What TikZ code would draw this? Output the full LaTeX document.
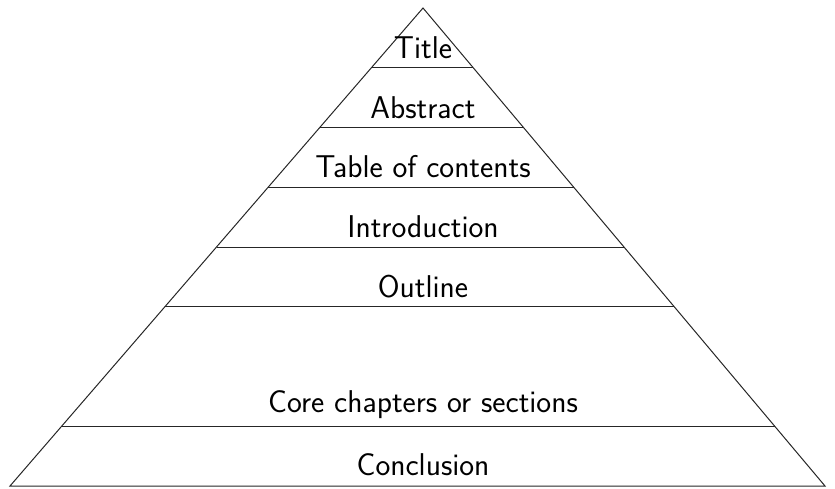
\documentclass[tikz,border=0pt]{standalone}
\usetikzlibrary{calc}
\begin{document}
\begin{tikzpicture}[x=1pt,y=-1pt,
  edge/.style={line width=1pt,black!85},
  lbl/.style={anchor=base,inner sep=0pt,font=\sffamily\fontsize{31.5}{36}\selectfont}]
\useasboundingbox (0,0) rectangle (835,488);
\coordinate (apex) at (423,8);
\coordinate (bl) at (10,486);
\coordinate (br) at (825,486);
\draw[edge] (bl) -- (apex) -- (br) -- cycle;
\foreach \t/\n in {0.125/a,0.25/b,0.375/c,0.5/d,0.625/e,0.875/f}{
  \coordinate (L\n) at ($(apex)!\t!(bl)$);
  \coordinate (R\n) at ($(apex)!\t!(br)$);
  \draw[edge] (L\n) -- (R\n);
}
\node[lbl] (t1) at (423,58) {Title};
\node[lbl] (t2) at (423,118) {Abstract};
\node[lbl] (t3) at (423,177) {Table of contents};
\node[lbl] (t4) at (423,237) {Introduction};
\node[lbl] (t5) at (423,297) {Outline};
\node[lbl] (t6) at (423,412) {Core chapters or sections};
\node[lbl] (t7) at (423,475) {Conclusion};
\end{tikzpicture}
\end{document}
